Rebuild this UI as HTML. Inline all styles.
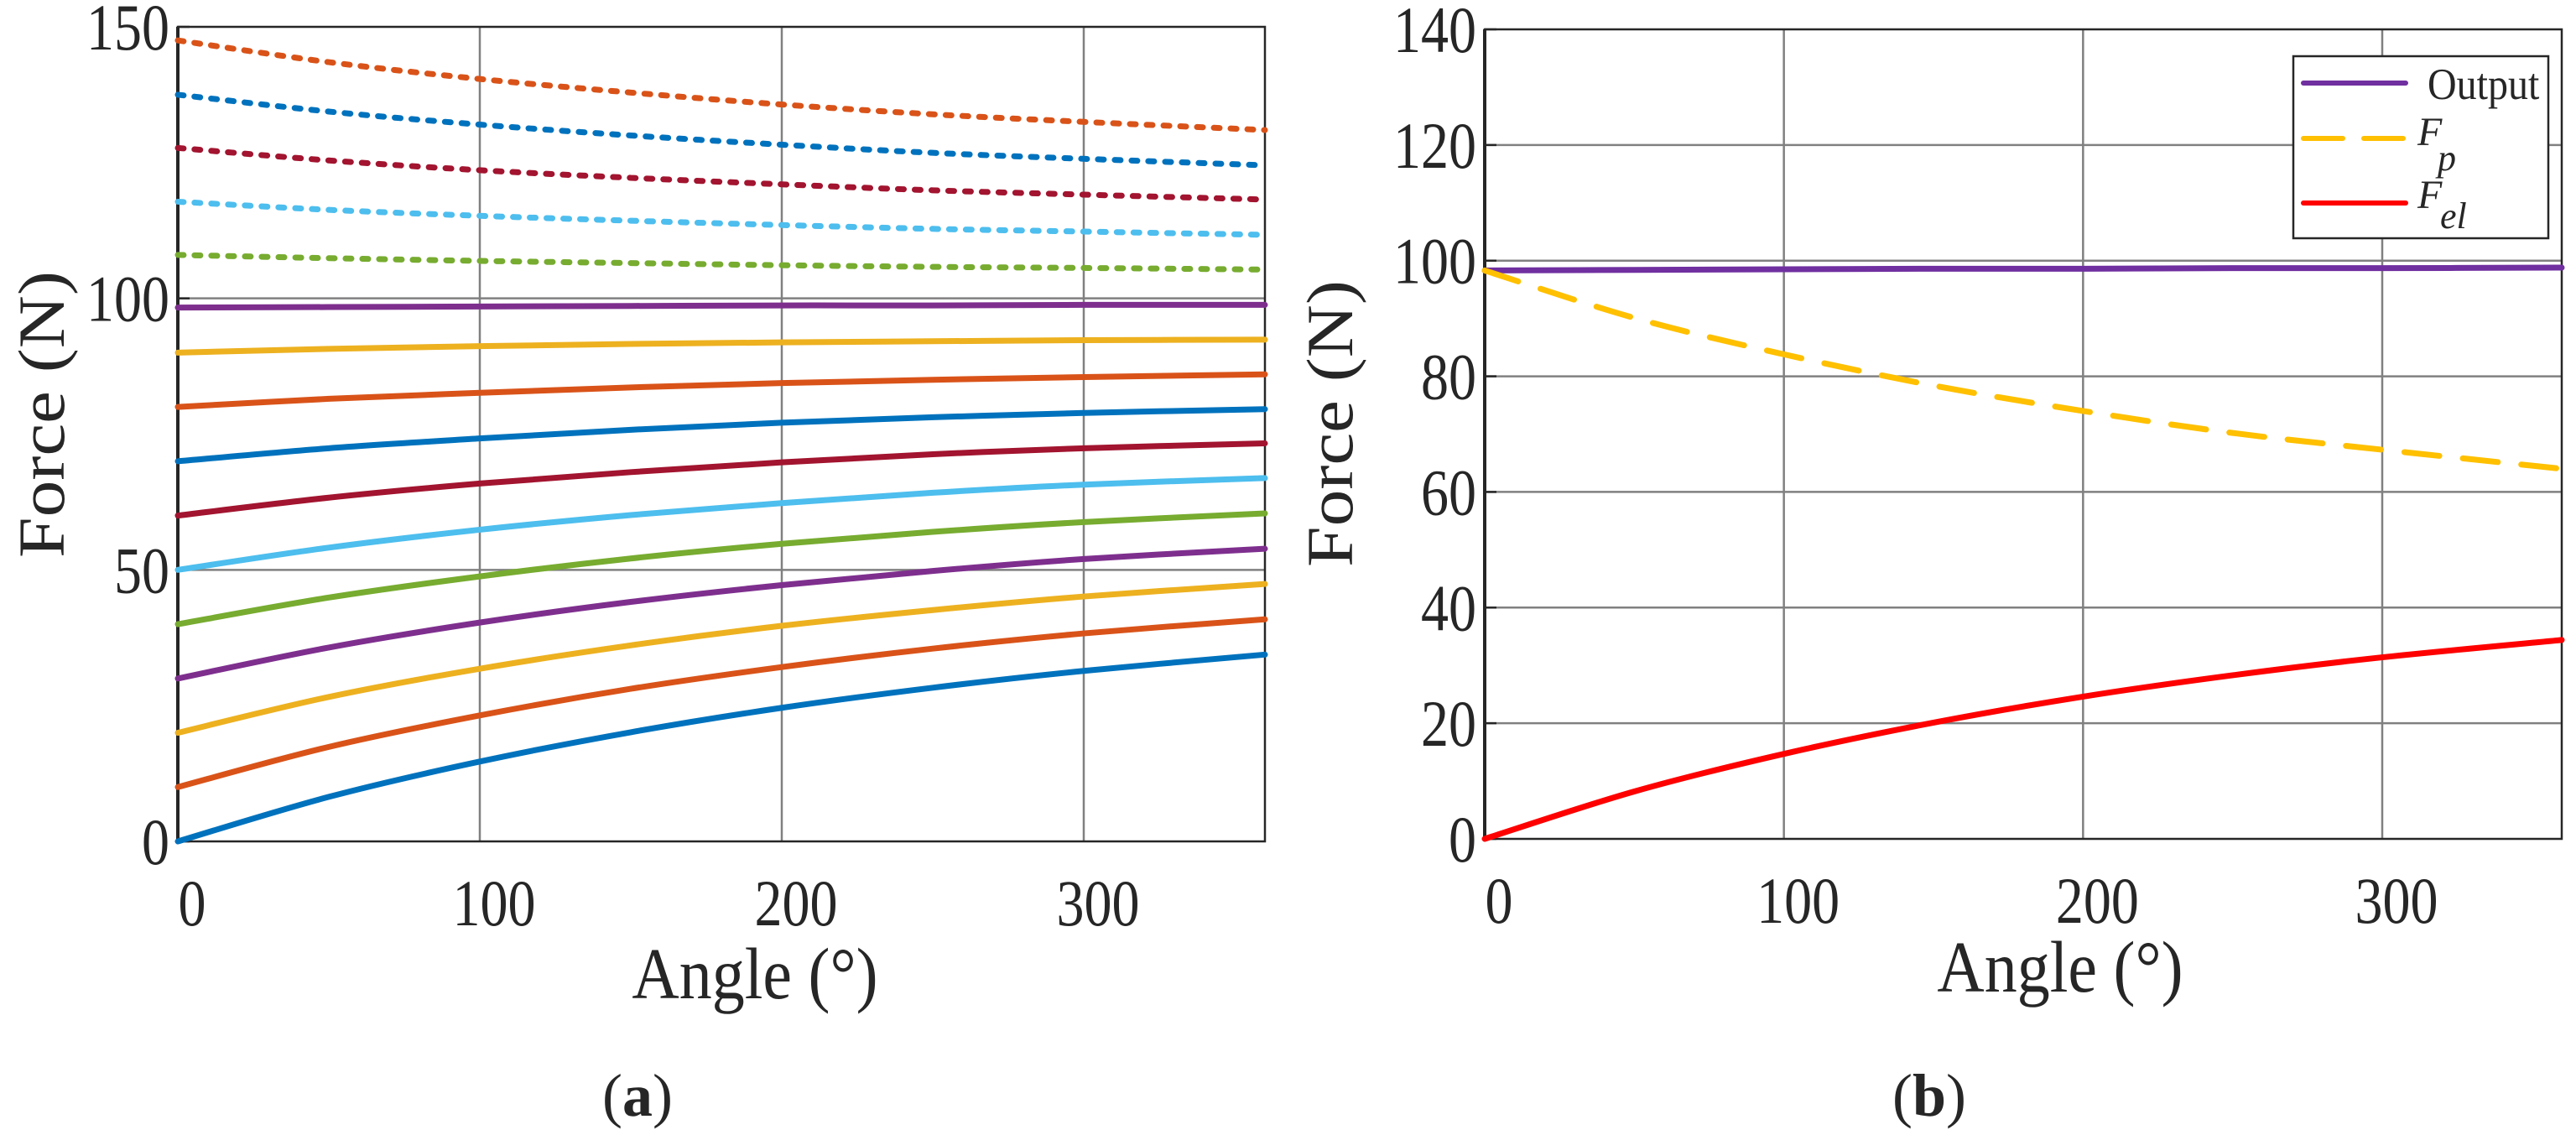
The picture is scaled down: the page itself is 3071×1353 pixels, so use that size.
<!DOCTYPE html>
<html><head><meta charset="utf-8"><style>
html,body{margin:0;padding:0;background:#fff;}
svg{display:block;}
svg text{font-family:"Liberation Serif","DejaVu Serif",serif;fill:#262626;}
</style></head><body>
<svg id="svg" width="3071" height="1353" viewBox="0 0 3071 1353" xmlns="http://www.w3.org/2000/svg" font-family="Liberation Serif, DejaVu Serif, serif">
<g id="pa"></g>
<g id="pb"></g>
<text x="760" y="1330" font-size="72" text-anchor="middle" font-family="Liberation Serif, serif">(<tspan font-weight="bold">a</tspan>)</text>
<text x="2300" y="1330" font-size="72" text-anchor="middle" font-family="Liberation Serif, serif">(<tspan font-weight="bold">b</tspan>)</text>
</svg>
<script>
// shared angle samples (degrees)
const angles = [0, 50, 100, 150, 200, 250, 300, 360];
// Chart (a) solid series
const solidA = [
  [0, 8.2, 14.7, 20.1, 24.6, 28.3, 31.4, 34.4],
  [10, 17.4, 23.2, 28.1, 32.1, 35.5, 38.3, 40.9],
  [20, 26.6, 31.8, 36.1, 39.7, 42.6, 45.1, 47.4],
  [30, 35.7, 40.3, 44.1, 47.2, 49.8, 52.0, 53.9],
  [40, 44.9, 48.8, 52.1, 54.8, 57.0, 58.8, 60.4],
  [50, 54.1, 57.4, 60.1, 62.3, 64.2, 65.7, 66.9],
  [60, 63.3, 65.9, 68.0, 69.8, 71.3, 72.4, 73.3],
  [70, 72.4, 74.2, 75.8, 77.1, 78.1, 78.9, 79.6],
  [80, 81.5, 82.6, 83.6, 84.4, 85.0, 85.5, 86.0],
  [90, 90.7, 91.2, 91.6, 91.9, 92.1, 92.3, 92.4],
  [98.3, 98.4, 98.5, 98.6, 98.7, 98.7, 98.8, 98.8]
];
const solidColors = ["#0072BD","#D95319","#EDB120","#7E2F8E","#77AC30","#4DBEEE","#A2142F","#0072BD","#D95319","#EDB120","#7E2F8E"];
// Chart (a) dotted series
const dottedA = [
  [147.5, 143.5, 140.4, 137.9, 135.7, 133.9, 132.5, 131.0],
  [137.5, 134.4, 132.0, 130.0, 128.3, 126.8, 125.7, 124.5],
  [127.7, 125.4, 123.6, 122.2, 121.0, 119.9, 119.1, 118.2],
  [117.8, 116.3, 115.2, 114.3, 113.5, 112.8, 112.3, 111.7],
  [108.0, 107.4, 106.9, 106.5, 106.1, 105.8, 105.6, 105.3]
];
const dottedColors = ["#D95319","#0072BD","#A2142F","#4DBEEE","#77AC30"];
const yTicksA = [0, 50, 100, 150];
const xTicks = [0, 100, 200, 300];
// Chart (b)
const outputB = [98.3, 98.4, 98.5, 98.6, 98.6, 98.7, 98.7, 98.8];
const fpB = [98.3, 90.1, 83.8, 78.4, 74.0, 70.2, 67.3, 64.0];
const felB = [0, 8.2, 14.7, 20.1, 24.6, 28.3, 31.4, 34.4];
const yTicksB = [0, 20, 40, 60, 80, 100, 120, 140];

const NS = "http://www.w3.org/2000/svg";
const FF = "Liberation Serif, DejaVu Serif, serif";
function mk(tag, attrs, parent){
  const e = document.createElementNS(NS, tag);
  for (const k in attrs) e.setAttribute(k, attrs[k]);
  if (tag === "text") e.setAttribute("font-family", FF);
  parent.appendChild(e);
  return e;
}
function smoothPath(xs, ys, sx, sy){
  const P = xs.map((x,i)=>[sx(x), sy(ys[i])]);
  let d = "M" + P[0][0] + "," + P[0][1];
  for (let i=0;i<P.length-1;i++){
    const p0=P[i-1]||P[i], p1=P[i], p2=P[i+1], p3=P[i+2]||P[i+1];
    const c1=[p1[0]+(p2[0]-p0[0])/6, p1[1]+(p2[1]-p0[1])/6];
    const c2=[p2[0]-(p3[0]-p1[0])/6, p2[1]-(p3[1]-p1[1])/6];
    d += " C"+c1[0]+","+c1[1]+" "+c2[0]+","+c2[1]+" "+p2[0]+","+p2[1];
  }
  return d;
}
function axes(g, cfg){
  const {x0,x1,y0,y1,ymax,yTicks,name} = cfg;
  const sx = v => x0 + (x1-x0)*v/360;
  const sy = v => y0 - (y0-y1)*v/ymax;
  xTicks.forEach(t=>{ if(t>0){
    const l = mk("line",{x1:sx(t),x2:sx(t),y1:y1,y2:y0,stroke:"#808080","stroke-width":2.5},g);
    
    
  }});
  yTicks.forEach(t=>{ if(t>0 && t<ymax){
    const l = mk("line",{x1:x0,x2:x1,y1:sy(t),y2:sy(t),stroke:"#808080","stroke-width":2.5},g);
    
    
  }});
  const f = mk("rect",{x:x0,y:y1,width:x1-x0,height:y0-y1,fill:"none",stroke:"#262626","stroke-width":2.5},g);
  
  
  const ya = mk("line",{x1:x0,x2:x0,y1:y1,y2:y0,stroke:"#262626","stroke-width":4},g);
  
  
  yTicks.forEach(t=>{
    const tx = mk("text",{"font-size":66,"text-anchor":"end",transform:"translate("+(x0-10)+","+(sy(t)+27)+") scale(1,1.18)"},g);
    tx.textContent = t;
    
    
    const tk = mk("line",{x1:x0,x2:x0+14,y1:sy(t),y2:sy(t),stroke:"#262626","stroke-width":2.5},g);
    
    
  });
  xTicks.forEach(t=>{
    const tx = mk("text",{"font-size":66,"text-anchor":"middle",transform:"translate("+(sx(t)+17)+","+(y0+100)+") scale(1,1.18)"},g);
    tx.textContent = t;
    
    
  });
  return {sx, sy};
}
function drawLine(g, xs, ys, sc, color, dash, nm){
  const a = {d:smoothPath(xs,ys,sc.sx,sc.sy),fill:"none",stroke:color,"stroke-width":7,"stroke-linecap":"round"};
  if (dash) a["stroke-dasharray"] = dash;
  const p = mk("path",a,g);
  
  
}

// ---- chart a ----
const ga = document.getElementById("pa");
const sa = axes(ga,{x0:212,x1:1508,y0:1003,y1:32,ymax:150,yTicks:yTicksA,name:"a"});
dottedA.forEach((s,i)=>drawLine(ga, angles, s, sa, dottedColors[i], "7 13", "a-dotted-series-"+(i+1)));
solidA.forEach((s,i)=>drawLine(ga, angles, s, sa, solidColors[i], null, "a-solid-series-"+(i+1)));
let t;
t = mk("text",{"font-size":78,"text-anchor":"middle",transform:"translate(900,1190) scale(1,1.12)"},ga);
t.textContent = "Angle (°)";


t = mk("text",{"font-size":78,"text-anchor":"middle",transform:"translate(76,494) scale(1,1.12) rotate(-90)"},ga);
t.textContent = "Force (N)";



// ---- chart b ----
const gb = document.getElementById("pb");
const sb = axes(gb,{x0:1770,x1:3054,y0:1000,y1:35,ymax:140,yTicks:yTicksB,name:"b"});
drawLine(gb, angles, outputB, sb, "#7030A0", null, "b-output-line");
drawLine(gb, angles, fpB, sb, "#FFC000", "42 28", "b-fp-line");
drawLine(gb, angles, felB, sb, "#FF0000", null, "b-fel-line");
t = mk("text",{"font-size":78,"text-anchor":"middle",transform:"translate(2456,1182) scale(1,1.12)"},gb);
t.textContent = "Angle (°)";


t = mk("text",{"font-size":78,"text-anchor":"middle",transform:"translate(1612,505) scale(1,1.12) rotate(-90)"},gb);
t.textContent = "Force (N)";



// legend
const lg = mk("g",{},gb);


const box = mk("rect",{x:2734,y:67,width:304,height:217,fill:"#fff",stroke:"#262626","stroke-width":2.5},lg);


const leg = [["#7030A0",null,99],["#FFC000","47 25",165],["#FF0000",null,242]];
leg.forEach(e=>{
  const l = mk("line",{x1:2746,x2:2868,y1:e[2],y2:e[2],stroke:e[0],"stroke-width":6,"stroke-linecap":"round"},lg);
  if (e[1]) l.setAttribute("stroke-dasharray", e[1]);
  
  
});
t = mk("text",{"font-size":48,transform:"translate(2894,118) scale(1,1.1)",fill:"#000"},lg);
t.textContent = "Output";


t = mk("text",{"font-size":48,"font-style":"italic",x:2882,y:173,fill:"#000"},lg);
t.textContent = "F";


t = mk("text",{"font-size":44,"font-style":"italic",x:2906,y:203,fill:"#000"},lg);
t.textContent = "p";


t = mk("text",{"font-size":48,"font-style":"italic",x:2882,y:248,fill:"#000"},lg);
t.textContent = "F";


t = mk("text",{"font-size":44,"font-style":"italic",x:2909,y:272,fill:"#000"},lg);
t.textContent = "el";


</script>
</body></html>
